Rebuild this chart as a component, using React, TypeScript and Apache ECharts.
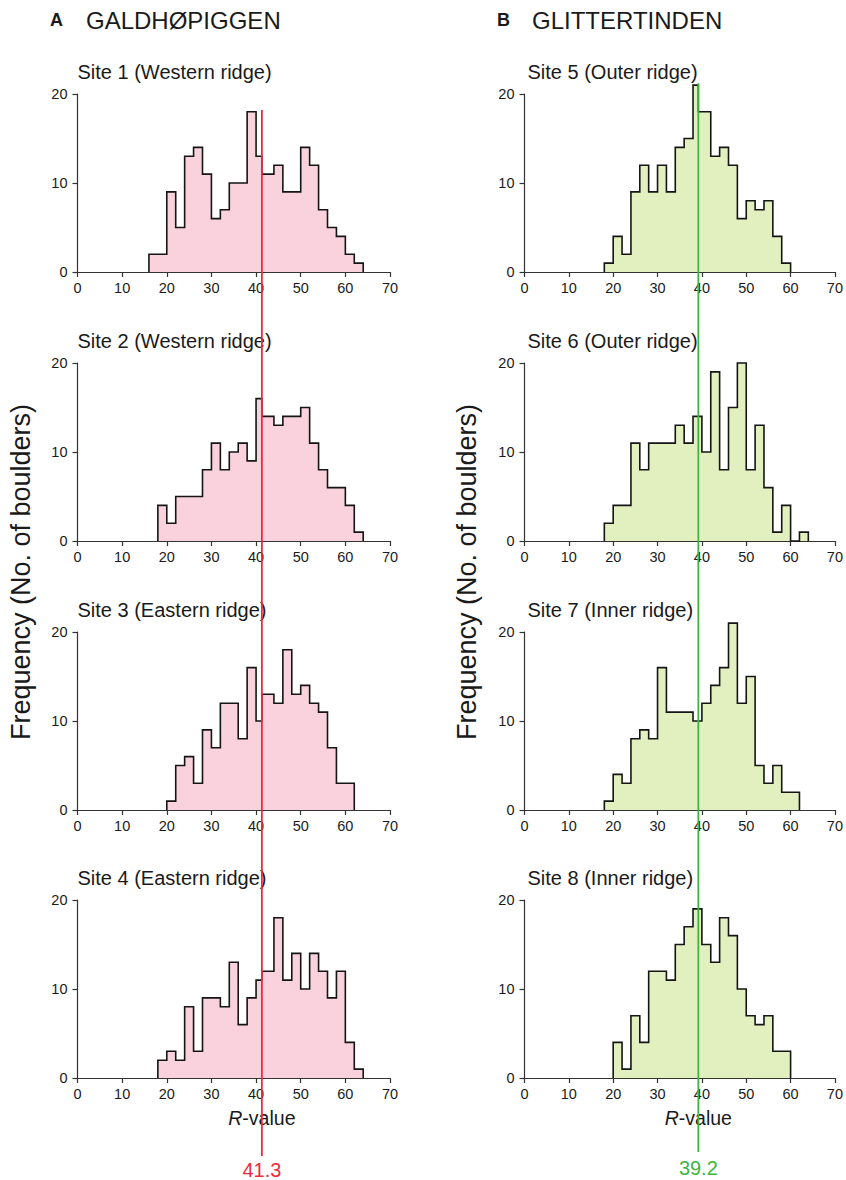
import React, { useEffect, useRef } from 'react';
import * as echarts from 'echarts';

// ---- data ----
const galdhMean = 41.3;
const glittMean = 39.2;

// bin edges (R-value); one bin is split where the mean line crosses it
const leftEdges = [16, 18, 20, 22, 24, 26, 28, 30, 32, 34, 36, 38, 40, 41.3, 42, 44, 46, 48, 50, 52, 54, 56, 58, 60, 62, 64];
const rightEdges = [16, 18, 20, 22, 24, 26, 28, 30, 32, 34, 36, 38, 39.2, 40, 42, 44, 46, 48, 50, 52, 54, 56, 58, 60, 62, 64];

// counts per bin (number of boulders)
const site1 = [2, 2, 9, 5, 13, 14, 11, 6, 7, 10, 10, 18, 13, 11, 11, 12, 9, 9, 14, 12, 7, 5, 4, 2, 1];
const site2 = [0, 4, 2, 5, 5, 5, 8, 11, 8, 10, 11, 9, 16, 14, 14, 13, 14, 14, 15, 11, 8, 6, 6, 4, 1];
const site3 = [0, 0, 1, 5, 6, 3, 9, 7, 12, 12, 8, 16, 10, 13, 13, 12, 18, 13, 14, 12, 11, 7, 3, 3, 0];
const site4 = [0, 2, 3, 2, 8, 3, 9, 9, 8, 13, 6, 9, 11, 12, 12, 18, 11, 14, 10, 14, 12, 9, 12, 4, 1];

const site5 = [0, 1, 4, 2, 9, 12, 9, 12, 9, 14, 15, 21, 18, 18, 13, 14, 12, 6, 8, 7, 8, 4, 1, 0, 0];
const site6 = [0, 2, 4, 4, 11, 8, 11, 11, 11, 13, 11, 14, 14, 10, 19, 8, 15, 20, 8, 13, 6, 1, 4, 0, 1];
const site7 = [0, 1, 4, 3, 8, 9, 8, 16, 11, 11, 11, 10, 10, 12, 14, 16, 21, 12, 15, 5, 3, 5, 2, 2, 0];
const site8 = [0, 0, 4, 1, 7, 4, 12, 12, 11, 15, 17, 19, 19, 15, 13, 18, 16, 10, 7, 6, 7, 3, 3, 0, 0];

const leftTitles = ['Site 1 (Western ridge)', 'Site 2 (Western ridge)', 'Site 3 (Eastern ridge)', 'Site 4 (Eastern ridge)'];
const rightTitles = ['Site 5 (Outer ridge)', 'Site 6 (Outer ridge)', 'Site 7 (Inner ridge)', 'Site 8 (Inner ridge)'];

const panelLetters = ['A', 'B'];
const panelNames = ['GALDHØPIGGEN', 'GLITTERTINDEN'];

const xTicks = { min: 0, max: 70, interval: 10 };
const yTicks = { min: 0, max: 20, interval: 10 };

// ---- styling ----
const FONT = '"Liberation Sans", Arial, Helvetica, sans-serif';
const TEXT = '#1a1a1a';
const AXIS = '#333333';
const PINK = '#f9d2de';
const GREEN_FILL = '#e2f0bf';
const RED = '#ee2a3a';
const GREEN = '#3fb43f';

const rowTops = [94, 363, 632, 900];
const gridH = 178;
const colLeft = [77.5, 524.5];
const colWidth = [312.5, 314];

function stepData(edges: number[], counts: number[]) {
  let i0 = 0;
  while (i0 < counts.length && counts[i0] === 0) i0++;
  let i1 = counts.length - 1;
  while (i1 >= 0 && counts[i1] === 0) i1--;
  const pts: number[][] = [[edges[i0], 0]];
  for (let i = i0; i <= i1; i++) pts.push([edges[i], counts[i]]);
  pts.push([edges[i1 + 1], 0]);
  return pts;
}

export default function App() {
  const ref = useRef<HTMLDivElement>(null);

  useEffect(() => {
    if (!ref.current) return;
    const chart = echarts.init(ref.current, undefined, { renderer: 'svg' });

    const panels = [
      { col: 0, row: 0, counts: site1, title: leftTitles[0] },
      { col: 0, row: 1, counts: site2, title: leftTitles[1] },
      { col: 0, row: 2, counts: site3, title: leftTitles[2] },
      { col: 0, row: 3, counts: site4, title: leftTitles[3] },
      { col: 1, row: 0, counts: site5, title: rightTitles[0] },
      { col: 1, row: 1, counts: site6, title: rightTitles[1] },
      { col: 1, row: 2, counts: site7, title: rightTitles[2] },
      { col: 1, row: 3, counts: site8, title: rightTitles[3] },
    ];

    const grid: any[] = [];
    const xAxis: any[] = [];
    const yAxis: any[] = [];
    const series: any[] = [];
    const graphic: any[] = [];

    panels.forEach((p, i) => {
      grid.push({ left: colLeft[p.col], top: rowTops[p.row], width: colWidth[p.col], height: gridH, containLabel: false });
      const axisCommon = {
        gridIndex: i,
        type: 'value',
        axisLine: { show: true, onZero: false, lineStyle: { color: AXIS, width: 1.2 } },
        axisTick: { show: true, length: 5, lineStyle: { color: AXIS, width: 1.2 } },
        splitLine: { show: false },
      };
      xAxis.push({
        ...axisCommon,
        min: xTicks.min, max: xTicks.max, interval: xTicks.interval,
        axisLabel: { fontSize: 14.5, color: TEXT, margin: 8, fontFamily: FONT },
      });
      yAxis.push({
        ...axisCommon,
        min: yTicks.min, max: yTicks.max, interval: yTicks.interval,
        axisLabel: { fontSize: 14.5, color: TEXT, margin: 10, fontFamily: FONT },
      });
      series.push({
        type: 'line',
        xAxisIndex: i,
        yAxisIndex: i,
        step: 'end',
        symbol: 'none',
        clip: false,
        silent: true,
        data: stepData(p.col === 0 ? leftEdges : rightEdges, p.counts),
        lineStyle: { color: '#151515', width: 1.6, join: 'miter' },
        areaStyle: { color: p.col === 0 ? PINK : GREEN_FILL, opacity: 1 },
        z: 2,
      });
      graphic.push({
        type: 'text',
        x: colLeft[p.col] + (p.col === 0 ? 0 : 3),
        y: rowTops[p.row] - 22,
        style: { text: p.title, fontSize: 20, fill: TEXT, fontFamily: FONT, align: 'left', verticalAlign: 'middle' },
      });
    });

    // headers
    const headerX = [[50, 86], [497, 532]];
    [0, 1].forEach((c) => {
      graphic.push({
        type: 'text', x: headerX[c][0], y: 20,
        style: { text: panelLetters[c], fontSize: 18, fontWeight: 'bold', fill: TEXT, fontFamily: FONT, verticalAlign: 'middle' },
      });
      graphic.push({
        type: 'text', x: headerX[c][1], y: 20,
        style: { text: panelNames[c], fontSize: 24, fill: TEXT, fontFamily: FONT, verticalAlign: 'middle' },
      });
    });

    // y-axis titles
    [21, 467].forEach((x) => {
      graphic.push({
        type: 'text', x, y: 572, rotation: Math.PI / 2,
        style: { text: 'Frequency (No. of boulders)', fontSize: 27, fill: TEXT, fontFamily: FONT, align: 'center', verticalAlign: 'middle' },
      });
    });

    chart.setOption({
      animation: false,
      textStyle: { fontFamily: FONT },
      grid, xAxis, yAxis, series, graphic,
    });

    // mean lines through all panels, positioned via the axis scales
    const redX = chart.convertToPixel({ xAxisIndex: 0 }, galdhMean) as number;
    const greenX = chart.convertToPixel({ xAxisIndex: 4 }, glittMean) as number;
    const redTop = chart.convertToPixel({ yAxisIndex: 0 }, 18.2) as number;
    const greenTop = chart.convertToPixel({ yAxisIndex: 4 }, 21.2) as number;

    const extra: any[] = [
      { type: 'line', z: 100, shape: { x1: redX, y1: redTop, x2: redX, y2: 1156 }, style: { stroke: RED, lineWidth: 1.8 } },
      { type: 'line', z: 100, shape: { x1: greenX, y1: greenTop, x2: greenX, y2: 1152 }, style: { stroke: GREEN, lineWidth: 1.8 } },
      { type: 'text', z: 100, x: redX, y: 1170, style: { text: String(galdhMean), fontSize: 20, fill: RED, fontFamily: FONT, align: 'center', verticalAlign: 'middle' } },
      { type: 'text', z: 100, x: greenX, y: 1168, style: { text: String(glittMean), fontSize: 20, fill: GREEN, fontFamily: FONT, align: 'center', verticalAlign: 'middle' } },
      { type: 'text', z: 50, x: redX, y: 1118, style: { text: '{i|R}-value', fontSize: 19.5, fill: TEXT, fontFamily: FONT, align: 'center', verticalAlign: 'middle', rich: { i: { fontStyle: 'italic', fontSize: 19.5, fontFamily: FONT, fill: TEXT } } } },
      { type: 'text', z: 50, x: greenX, y: 1118, style: { text: '{i|R}-value', fontSize: 19.5, fill: TEXT, fontFamily: FONT, align: 'center', verticalAlign: 'middle', rich: { i: { fontStyle: 'italic', fontSize: 19.5, fontFamily: FONT, fill: TEXT } } } },
    ];

    chart.setOption({ graphic: [...graphic, ...extra] });

    return () => chart.dispose();
  }, []);

  return <div ref={ref} style={{ position: 'absolute', left: 0, top: 0, width: 846, height: 1180 }} />;
}
